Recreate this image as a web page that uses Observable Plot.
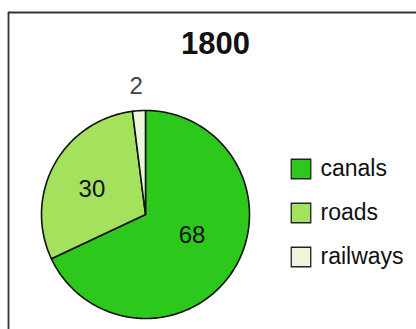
<!DOCTYPE html>
<html>
<head>
<meta charset="utf-8">
<script src="https://cdn.jsdelivr.net/npm/d3@7"></script>
<script src="https://cdn.jsdelivr.net/npm/@observablehq/plot@0.6"></script>
<style>
  html, body { margin: 0; padding: 0; background: #fff; }
  #chart svg { display: block; }
</style>
</head>
<body>
<div id="chart"></div>
<script>
// ---- data ----
const title = "1800";
const categories = ["canals", "roads", "railways"];
const values = [68, 30, 2];
const colors = ["#2cc81c", "#a4e25e", "#eef5da"];

// ---- layout (pixel space) ----
const W = 416, H = 329;
const cx = 145, cy = 214, R = 104;
const labelRadius = [0.49, 0.57, 1.24];
const labelAngleShift = [-8.4, -3.5, -0.6]; // degrees

const arcs = d3.pie().sort(null).value(d => d)(values);

// slice outlines as polygons
const slicePts = [];
arcs.forEach((a, i) => {
  const cat = categories[i];
  slicePts.push({cat, x: cx, y: cy});
  const n = Math.max(2, Math.ceil((a.endAngle - a.startAngle) / (Math.PI / 180)));
  for (let k = 0; k <= n; k++) {
    const t = a.startAngle + (a.endAngle - a.startAngle) * k / n;
    slicePts.push({cat, x: cx + R * Math.sin(t), y: cy - R * Math.cos(t)});
  }
  slicePts.push({cat, x: cx, y: cy});
});

const labels = arcs.map((a, i) => {
  const m = (a.startAngle + a.endAngle) / 2 + labelAngleShift[i] * Math.PI / 180;
  const r = R * labelRadius[i];
  return {text: String(values[i]), x: cx + r * Math.sin(m), y: cy - r * Math.cos(m), outside: labelRadius[i] > 1};
});

const legend = categories.map((c, i) => ({cat: c, x: 300.5, y: 168.5 + i * 44}));

const font = "Liberation Sans, Arial, Helvetica, sans-serif";

const chart = Plot.plot({
  width: W,
  height: H,
  margin: 0,
  x: {domain: [0, W], range: [0, W], axis: null},
  y: {domain: [0, H], range: [0, H], axis: null},
  color: {domain: categories, range: colors},
  style: {fontFamily: font, background: "#fff"},
  marks: [
    // frame (top and left edges)
    Plot.ruleY([12], {x1: 8, x2: W, stroke: "#333", strokeWidth: 1.8}),
    Plot.ruleX([8], {y1: 12, y2: H, stroke: "#333", strokeWidth: 1.8}),
    // title
    Plot.text([title], {x: () => 215, y: () => 44, text: d => d, fontSize: 31, fontWeight: "bold", fill: "#111"}),
    // pie
    Plot.line(slicePts, {x: "x", y: "y", z: "cat", fill: "cat", stroke: "#111", strokeWidth: 1.6, strokeLinejoin: "round", curve: "linear"}),
    // value labels
    Plot.text(labels, {x: "x", y: "y", text: "text", fontSize: 24, fill: d => d.outside ? "#444" : "#111"}),
    // legend
    Plot.dot(legend, {x: "x", y: "y", symbol: "square", r: 11, fill: "cat", stroke: "#222", strokeWidth: 1.3}),
    Plot.text(legend, {x: 320, y: "y", text: "cat", textAnchor: "start", fontSize: 23, fill: "#111"})
  ]
});
document.getElementById("chart").append(chart);
</script>
</body>
</html>
